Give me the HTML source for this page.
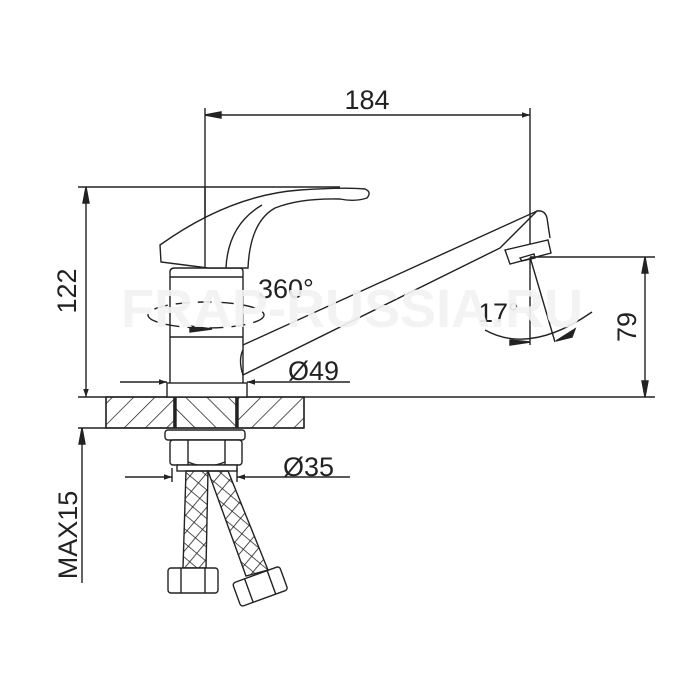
<!DOCTYPE html>
<html><head><meta charset="utf-8"><style>body{margin:0;background:#fff}svg{display:block}</style></head><body>
<svg width="700" height="700" viewBox="0 0 700 700" xmlns="http://www.w3.org/2000/svg">
<defs>
<pattern id="h1" width="15" height="15" patternUnits="userSpaceOnUse" patternTransform="rotate(45)"><line x1="0" y1="0" x2="0" y2="15" stroke="#222" stroke-width="1.5"/></pattern>
<pattern id="h2" width="15" height="15" patternUnits="userSpaceOnUse" patternTransform="rotate(-45)"><line x1="0" y1="0" x2="0" y2="15" stroke="#222" stroke-width="1.5"/></pattern>
<pattern id="x1" width="11" height="11" patternUnits="userSpaceOnUse" patternTransform="rotate(40)"><path d="M0,0V11M0,0H11" stroke="#222" stroke-width="1.6"/></pattern>
<marker id="a" viewBox="0 0 10 10" refX="10" refY="5" markerWidth="16" markerHeight="8" markerUnits="userSpaceOnUse" orient="auto"><path d="M0,1.5L10,5L0,8.5Z" fill="#222"/></marker>
</defs>
<g stroke="#222" stroke-width="1.4" fill="none">
<line x1="205" y1="108" x2="205" y2="268"/>
<line x1="530" y1="108" x2="530" y2="345"/>
<line x1="205" y1="115" x2="530" y2="115" marker-end="url(#a)"/>
<path d="M221,112L205,115L221,118Z" fill="#222"/>
<line x1="78" y1="187" x2="340" y2="187"/>
<path d="M86,187V397" marker-end="url(#a)"/>
<path d="M83,203L86,187L89,203Z" fill="#222"/>
<line x1="78" y1="397" x2="655" y2="397"/>
<line x1="78" y1="428" x2="304" y2="428"/>
<rect x="106" y="397" width="68" height="31" fill="url(#h1)"/>
<rect x="175" y="397" width="61" height="31" fill="url(#h2)"/>
<rect x="237" y="397" width="67" height="31" fill="url(#h1)"/>
<line x1="106" y1="397" x2="106" y2="428"/><line x1="304" y1="397" x2="304" y2="428"/>
<line x1="174" y1="397" x2="174" y2="428"/><line x1="176" y1="397" x2="176" y2="428"/>
<line x1="236" y1="397" x2="236" y2="428"/><line x1="238" y1="397" x2="238" y2="428"/>
<path d="M170,397V272Q170,268 175,268H240Q243,268 243,272V397" fill="#fff"/>
<line x1="170" y1="277" x2="243" y2="277"/>
<line x1="170" y1="337" x2="243" y2="337"/>
<rect x="167" y="383" width="80" height="14" fill="#fff"/>
<path d="M243,345L537,211Q545,210 547,218L550,238"/>
<path d="M243,375Q238,360 243,350"/>
<path d="M243,375L500,248"/>
<path d="M500,248L537,211"/>
<path d="M505,250L548,240L551,253L510,264Z" fill="#fff"/>
<path d="M520,258L534,254L535,258L522,261Z"/>
<path d="M160,245Q230,195 300,190Q345,187 365,189Q372,192 367,198Q355,202 340,199Q300,198 275,208Q250,222 248,268L208,268L161,262Z" fill="#fff"/>
<path d="M226,268Q228,225 262,205"/>
<line x1="205" y1="187" x2="205" y2="268"/>
<ellipse cx="206" cy="315" rx="58" ry="13" stroke-dasharray="14,8"/>
<path d="M190,326L212,329L190,332Z" fill="#222"/>
<line x1="120" y1="382" x2="167" y2="382" marker-end="url(#a)"/>
<line x1="350" y1="382" x2="247" y2="382" marker-end="url(#a)"/>
<line x1="530" y1="257" x2="655" y2="257"/>
<path d="M645,257V397"/>
<path d="M642,273L645,257L648,273Z" fill="#222"/>
<path d="M642,381L645,397L648,381Z" fill="#222"/>
<line x1="530" y1="257" x2="555" y2="342"/>
<path d="M485,330Q530,355 592,312"/>
<path d="M510,340L530,342L510,345Z" fill="#222"/>
<path d="M556,341L575,329L572,337Z" fill="#222"/>
<rect x="165" y="430" width="80" height="10" rx="3" fill="#fff"/>
<rect x="170" y="440" width="72" height="25" rx="3" fill="#fff"/>
<line x1="188" y1="440" x2="188" y2="465"/><line x1="225" y1="440" x2="225" y2="465"/>
<path d="M188,462Q206,470 225,462"/>
<rect x="177" y="465" width="60" height="6" fill="#fff"/>
<line x1="125" y1="477" x2="172" y2="477" marker-end="url(#a)"/>
<line x1="350" y1="477" x2="237" y2="477" marker-end="url(#a)"/>
<line x1="172" y1="468" x2="172" y2="482"/><line x1="237" y1="468" x2="237" y2="482"/>
<line x1="82" y1="428" x2="82" y2="583"/>
<path d="M79,444L82,428L85,444Z" fill="#222"/>
<path d="M186,471L208,471L206,568L183,568Z" fill="url(#x1)"/>
<path d="M208,471L228,471L268,570L246,576Z" fill="url(#x1)"/>
<rect x="168" y="568" width="50" height="25" rx="3" fill="#fff"/>
<line x1="181" y1="568" x2="181" y2="593"/><line x1="205" y1="568" x2="205" y2="593"/>
<g transform="translate(260,586) rotate(-20)"><rect x="-25" y="-12" width="50" height="25" rx="3" fill="#fff"/><line x1="-12" y1="-12" x2="-12" y2="13"/><line x1="12" y1="-12" x2="12" y2="13"/></g>
</g>
<g font-family="Liberation Sans, sans-serif" fill="#222" font-size="27">
<text x="367" y="109" text-anchor="middle">184</text>
<text transform="translate(76,291) rotate(-90)" text-anchor="middle">122</text>
<text transform="translate(636,327) rotate(-90)" text-anchor="middle">79</text>
<text transform="translate(77,535) rotate(-90)" text-anchor="middle">MAX15</text>
<text x="258" y="298">360°</text>
<text x="288" y="380">Ø49</text>
<text x="283" y="476">Ø35</text>
<text x="478" y="322">17°</text>
</g>
<text x="352" y="327" text-anchor="middle" font-family="Liberation Sans, sans-serif" font-weight="bold" font-size="54" fill="#f2f2f2" fill-opacity="0.92">FRAP-RUSSIA.RU</text>
</svg>
</body></html>
